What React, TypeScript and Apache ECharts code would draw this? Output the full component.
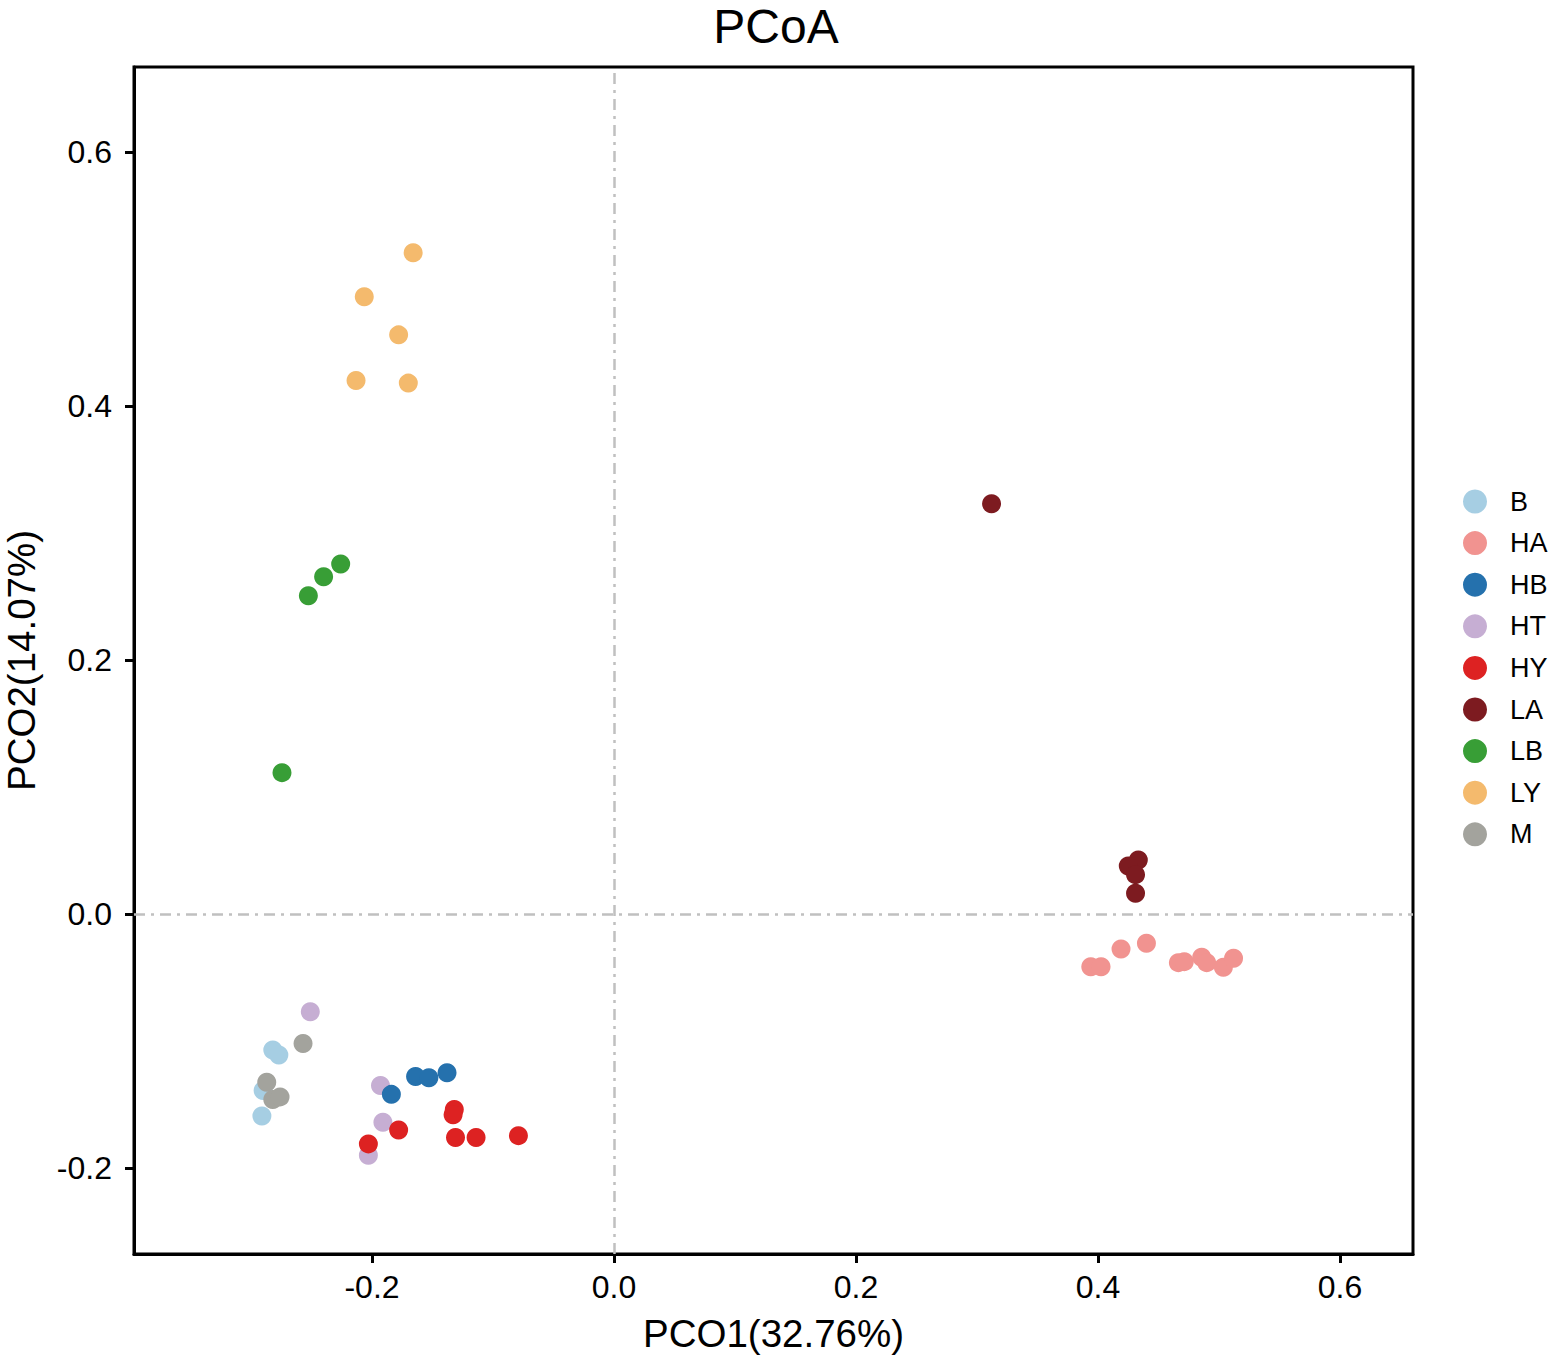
import React, { useEffect, useRef } from "react";
import * as echarts from "echarts";

const groups = ["B", "HA", "HB", "HT", "HY", "LA", "LB", "LY", "M"];
const colors: Record<string, string> = {
  B: "#A6CEE3",
  HA: "#F19390",
  HB: "#2571AD",
  HT: "#C6AED3",
  HY: "#DD2222",
  LA: "#7D1B20",
  LB: "#389E36",
  LY: "#F4BA6D",
  M: "#A3A39D",
};

const B = [[-0.282, -0.107], [-0.277, -0.111], [-0.290, -0.139], [-0.291, -0.159]];
const HA = [[0.394, -0.0415], [0.4025, -0.0415], [0.419, -0.0276], [0.440, -0.0231], [0.4664, -0.0383], [0.4713, -0.0375], [0.4857, -0.0341], [0.4898, -0.0383], [0.5036, -0.042], [0.512, -0.0349]];
const HB = [[-0.184, -0.142], [-0.164, -0.128], [-0.153, -0.129], [-0.138, -0.125]];
const HT = [[-0.251, -0.077], [-0.193, -0.135], [-0.191, -0.164], [-0.203, -0.190]];
const HY = [[-0.178, -0.170], [-0.203, -0.181], [-0.132, -0.154], [-0.133, -0.158], [-0.131, -0.176], [-0.114, -0.176], [-0.079, -0.1745]];
const LA = [[0.312, 0.323], [0.4333, 0.0425], [0.425, 0.0378], [0.431, 0.031], [0.431, 0.0163]];
const LB = [[-0.2259, 0.2756], [-0.240, 0.2656], [-0.2526, 0.2506], [-0.2744, 0.1113]];
const LY = [[-0.166, 0.5207], [-0.2064, 0.486], [-0.178, 0.456], [-0.2132, 0.420], [-0.170, 0.418]];
const M = [[-0.257, -0.102], [-0.287, -0.1325], [-0.282, -0.146], [-0.276, -0.144]];

const dataByGroup: Record<string, number[][]> = { B, HA, HB, HT, HY, LA, LB, LY, M };
const drawOrder = ["B", "HA", "HT", "HB", "HY", "LA", "LB", "LY", "M"];

const xTicks = [-0.2, 0.0, 0.2, 0.4, 0.6];
const yTicks = [-0.2, 0.0, 0.2, 0.4, 0.6];
const xRange = [-0.3967, 0.6603];
const yRange = [-0.2677, 0.6669];

const FONT = "Liberation Sans, Arial, Helvetica, sans-serif";

export default function App() {
  const ref = useRef<HTMLDivElement>(null);
  useEffect(() => {
    if (!ref.current) return;
    const chart = echarts.init(ref.current, null, { renderer: "svg" });
    const series: any[] = drawOrder.map((g, i) => ({
      name: g,
      type: "scatter",
      data: dataByGroup[g],
      symbol: "circle",
      symbolSize: 19,
      itemStyle: { color: colors[g], opacity: 1 },
      ...(i === 0
        ? {
            markLine: {
              silent: true,
              symbol: "none",
              label: { show: false },
              lineStyle: { color: "#C0C0C0", width: 2.5, type: [11, 6, 3, 6] },
              data: [{ xAxis: 0 }, { yAxis: 0 }],
            },
          }
        : {}),
    }));
    chart.setOption({
      animation: false,
      backgroundColor: "#ffffff",
      title: {
        text: "PCoA",
        left: 776,
        textAlign: "center",
        top: 2,
        padding: 0,
        textStyle: { fontFamily: FONT, fontSize: 48, fontWeight: "normal", color: "#000" },
      },
      legend: {
        orient: "vertical",
        left: 1463,
        top: 488,
        padding: 0,
        data: groups,
        icon: "circle",
        itemWidth: 24,
        itemHeight: 24,
        itemGap: 14.6,
        textStyle: { fontFamily: FONT, fontSize: 27, color: "#000", padding: [0, 0, 0, 18] },
      },
      grid: {
        left: 134,
        top: 67,
        width: 1279,
        height: 1187,
        outerBoundsMode: "none",
        containLabel: false,
        show: true,
        borderColor: "#000",
        borderWidth: 3,
        backgroundColor: "transparent",
      },
      xAxis: {
        type: "value",
        min: xRange[0],
        max: xRange[1],
        name: "PCO1(32.76%)",
        nameLocation: "middle",
        nameGap: 59.5,
        nameTextStyle: { fontFamily: FONT, fontSize: 38.5, color: "#000" },
        axisLine: { show: true, onZero: false, lineStyle: { color: "#000", width: 3 } },
        axisTick: { show: true, length: 9, lineStyle: { color: "#000", width: 3 }, customValues: xTicks },
        axisLabel: {
          fontFamily: FONT,
          fontSize: 32,
          color: "#000",
          margin: 17,
          customValues: xTicks,
          formatter: (v: number) => v.toFixed(1),
        },
        splitLine: { show: false },
      },
      yAxis: {
        type: "value",
        min: yRange[0],
        max: yRange[1],
        name: "PCO2(14.07%)",
        nameLocation: "middle",
        nameGap: 93,
        nameTextStyle: { fontFamily: FONT, fontSize: 38.5, color: "#000" },
        axisLine: { show: true, onZero: false, lineStyle: { color: "#000", width: 3 } },
        axisTick: { show: true, length: 9, lineStyle: { color: "#000", width: 3 }, customValues: yTicks },
        axisLabel: {
          fontFamily: FONT,
          fontSize: 32,
          color: "#000",
          margin: 22,
          customValues: yTicks,
          formatter: (v: number) => v.toFixed(1),
        },
        splitLine: { show: false },
      },
      series,
    });
    return () => chart.dispose();
  }, []);
  return (
    <div
      ref={ref}
      style={{ position: "absolute", left: 0, top: 0, width: 1559, height: 1364, background: "#fff" }}
    />
  );
}
